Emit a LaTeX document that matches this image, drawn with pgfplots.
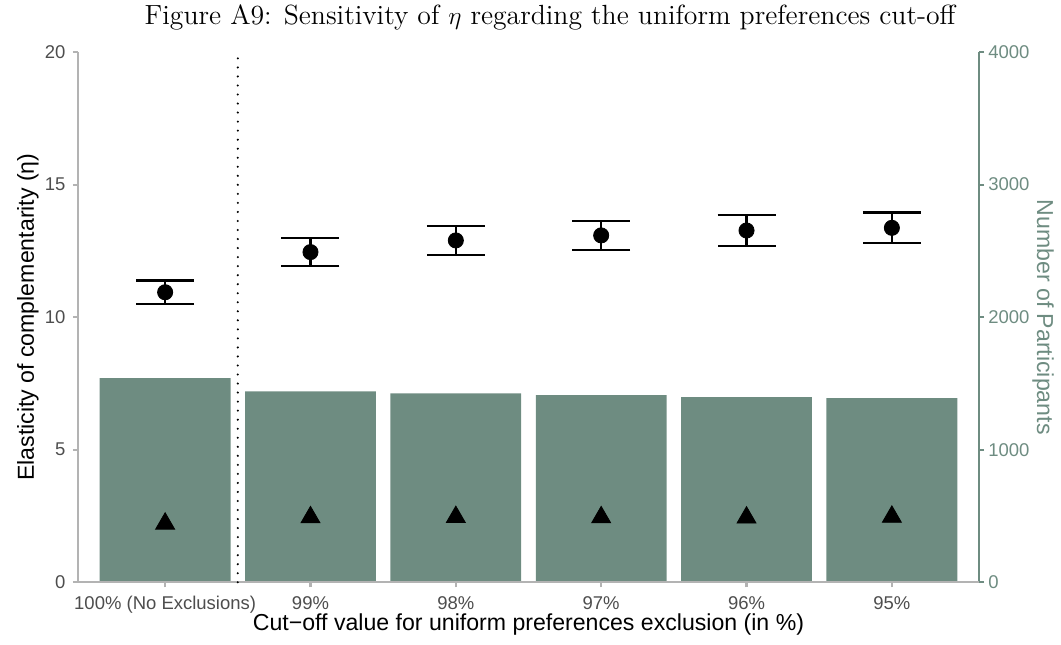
\documentclass[border=0pt]{standalone}
\usepackage{fontspec}
\usepackage{pgfplots}
\pgfplotsset{compat=1.18}
\newfontfamily\sans{Liberation Sans}
\definecolor{bargreen}{HTML}{6E8C81}
\definecolor{axgray}{HTML}{B3B3B3}
\definecolor{tickgray}{HTML}{4D4D4D}
\begin{document}
\begin{tikzpicture}
\useasboundingbox (-37.1pt,-29.5pt) rectangle (468pt,277.2pt);
\begin{axis}[
  scale only axis, width=429pt, height=252.4pt,
  xmin=-0.6, xmax=5.6, ymin=0, ymax=4000,
  axis x line=none,
  axis y line*=right,
  y axis line style={draw=bargreen, line width=1pt, -},
  ytick={0,1000,2000,3000,4000},
  ytick style={draw=bargreen, line width=1pt},
  tick align=outside,
  major tick length=2.4pt,
  yticklabel style={font=\sans\fontsize{8.8}{10}\selectfont, text=bargreen, xshift=-1.5pt},
  /pgf/number format/assume math mode=true,
  /pgf/number format/1000 sep={},
  ylabel={Number of Participants},
  ylabel style={font=\sans\fontsize{11}{13}\selectfont, text=bargreen, at={(axis description cs:1.071,0.5)}, anchor=center, rotate=180},
]
\addplot[ybar, bar width=0.9, bar shift=0pt, fill=bargreen, draw=none]
  coordinates {(0,1540) (1,1441) (2,1426) (3,1411) (4,1396) (5,1389)};
\end{axis}
\begin{axis}[
  scale only axis, width=429pt, height=252.4pt,
  xmin=-0.6, xmax=5.6, ymin=0, ymax=20,
  axis x line*=bottom, axis y line*=left,
  axis line style={draw=axgray, line width=1pt, -},
  tick style={draw=axgray, line width=1pt},
  tick align=outside, major tick length=2.4pt,
  xtick={0,1,2,3,4,5},
  xticklabels={100\% (No Exclusions), 99\%, 98\%, 97\%, 96\%, 95\%},
  ytick={0,5,10,15,20},
  ticklabel style={font=\sans\fontsize{8.8}{10}\selectfont, text=tickgray},
  xticklabel style={anchor=base, yshift=-10.5pt},
  /pgf/number format/assume math mode=true,
  xlabel={Cut−off value for uniform preferences exclusion (in \%)},
  xlabel style={font=\sans\fontsize{11}{13}\selectfont, at={(axis description cs:0.5,0)}, anchor=base, yshift=-22.9pt},
  ylabel={Elasticity of complementarity (η)},
  ylabel style={font=\sans\fontsize{11}{13}\selectfont, at={(axis description cs:-0.0555,0.5)}, anchor=center},
  title={Figure A9: Sensitivity of $\eta$ regarding the uniform preferences cut-off},
  title style={font=\fontsize{13.2}{15}\selectfont, at={(axis description cs:0.524,1)}, anchor=base, yshift=7.3pt},
  clip=false,
]
\addplot[black, line width=1.1pt, line cap=round, dash pattern=on 0pt off 4.3pt]
  coordinates {(0.5,0) (0.5,20)};
\addplot[only marks, mark=*, mark size=3.6pt, black,
  error bars/.cd, y dir=both, y explicit,
  error bar style={line width=1pt, black},
  error mark options={rotate=90, mark size=13.8pt, line width=1pt, black}]
  coordinates {
  (0,10.94) +- (0,0.445)
  (1,12.455) +- (0,0.515)
  (2,12.895) +- (0,0.555)
  (3,13.085) +- (0,0.555)
  (4,13.27) +- (0,0.58)
  (5,13.37) +- (0,0.58)
  };
\addplot[only marks, mark=triangle*, mark size=5.2pt, black]
  coordinates {(0,2.21) (1,2.45) (2,2.46) (3,2.45) (4,2.44) (5,2.47)};
\end{axis}
\end{tikzpicture}
\end{document}
